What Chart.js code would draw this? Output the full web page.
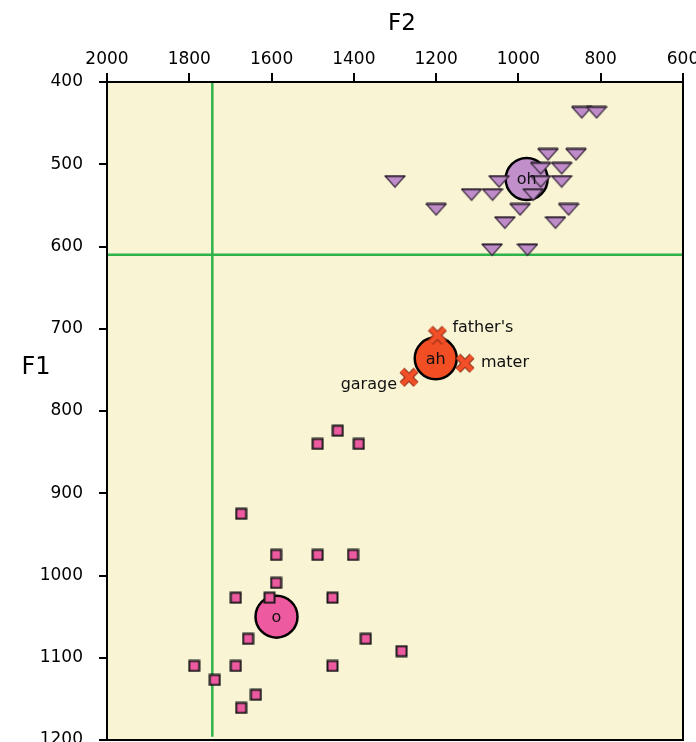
<!DOCTYPE html>
<html>
<head>
<meta charset="utf-8">
<script src="https://cdn.jsdelivr.net/npm/chart.js@4/dist/chart.umd.min.js"></script>
<style>
html,body{margin:0;padding:0;background:#fff;}
#wrap{width:696px;height:742px;}
</style>
</head>
<body>
<div id="wrap"><canvas id="c" width="696" height="742"></canvas></div>
<script>
// ---- data ----
const xTicks = [2000, 1800, 1600, 1400, 1200, 1000, 800, 600];
const yTicks = [400, 500, 600, 700, 800, 900, 1000, 1100, 1200];

const ohF2 = [846, 810, 928, 860, 946, 895, 1300, 1047, 946, 895, 1114, 1063, 964, 1200, 996, 878, 1033, 910, 1064, 978];
const ohF1 = [437, 437, 488, 488, 505, 505, 521, 521, 521, 521, 537, 537, 537, 555, 555, 555, 571, 571, 604, 604];

const oF2 = [1439, 1488, 1388, 1674, 1589, 1488, 1402, 1589, 1687, 1605, 1452, 1657, 1371, 1284, 1788, 1687, 1452, 1738, 1638, 1674];
const oF1 = [824, 840, 840, 925, 975, 975, 975, 1009, 1027, 1027, 1027, 1077, 1077, 1092, 1110, 1110, 1110, 1127, 1145, 1161];

const ahWords = ["father's", "mater", "garage"];
const ahF2 = [1197, 1130, 1266];
const ahF1 = [708, 742, 759];

const meanVowels = ["oh", "ah", "o"];
const meanF2 = [980, 1201, 1588];
const meanF1 = [518, 736, 1050];

const boundaryF2 = 1744;
const boundaryF1 = 610;
const vLineF1 = [400, 1196];
const hLineF2 = [2000, 600];

// ---- marker images ----
function triImg(){
  const c = document.createElement('canvas'); c.width = 22; c.height = 14;
  const g = c.getContext('2d');
  g.beginPath(); g.moveTo(1,1.5); g.lineTo(21,1.5); g.lineTo(11,12.5); g.closePath();
  g.fillStyle = '#BF8CC9'; g.fill();
  g.strokeStyle = '#3b2b3d'; g.lineWidth = 1.2; g.stroke();
  g.beginPath(); g.moveTo(1,1.5); g.lineTo(21,1.5); g.lineWidth = 2; g.strokeStyle = '#2a1e2c'; g.stroke();
  return c;
}
function sqImg(){
  const c = document.createElement('canvas'); c.width = 13; c.height = 13;
  const g = c.getContext('2d');
  g.fillStyle = '#EE5AA0'; g.fillRect(1.5,1.5,10,10);
  g.strokeStyle = '#1a1a1a'; g.lineWidth = 2; g.strokeRect(1.5,1.5,10,10);
  return c;
}
function crossImg(){
  const c = document.createElement('canvas'); c.width = 20; c.height = 20;
  const g = c.getContext('2d');
  g.lineCap = 'butt';
  g.beginPath(); g.moveTo(3,3); g.lineTo(17,17); g.moveTo(17,3); g.lineTo(3,17);
  g.strokeStyle = '#8a2d14'; g.lineWidth = 7; g.stroke();
  g.strokeStyle = '#F04F28'; g.lineWidth = 5; g.stroke();
  return c;
}
const TRI = triImg(), SQ = sqImg(), CROSS = crossImg();

const pts = (xs, ys) => xs.map((x, i) => ({x: x, y: ys[i]}));

const bgPlugin = {
  id: 'bg',
  beforeDraw(chart){
    const {ctx, chartArea: a} = chart;
    ctx.save(); ctx.fillStyle = '#F9F4D4';
    ctx.fillRect(a.left, a.top, a.right - a.left, a.bottom - a.top);
    ctx.restore();
  },
  afterDraw(chart){
    const {ctx, chartArea: a} = chart;
    ctx.save(); ctx.strokeStyle = '#000'; ctx.lineWidth = 2;
    ctx.strokeRect(a.left, a.top, a.right - a.left, a.bottom - a.top);
    ctx.fillStyle = '#000';
    ctx.textAlign = 'center'; ctx.textBaseline = 'middle';
    ctx.font = '23px "DejaVu Sans"';
    ctx.fillText('F2', 402, 24);
    ctx.font = '24px "DejaVu Sans"';
    ctx.fillText('F1', 36, 368);
    ctx.restore();
  },
  afterDatasetsDraw(chart){
    const {ctx} = chart;
    const xs = chart.scales.x, ys = chart.scales.y;
    ctx.save(); ctx.fillStyle = '#111';
    ctx.font = '16px "DejaVu Sans"';
    ctx.textBaseline = 'middle'; ctx.textAlign = 'center';
    meanVowels.forEach((v, i) => {
      ctx.fillText(v, xs.getPixelForValue(meanF2[i]), ys.getPixelForValue(meanF1[i]) + 1);
    });
    const offs = [[15, -7, 'left'], [16, 0, 'left'], [-12, 8, 'right']];
    ahWords.forEach((w, i) => {
      const o = offs[i];
      ctx.textAlign = o[2];
      ctx.fillText(w, xs.getPixelForValue(ahF2[i]) + o[0], ys.getPixelForValue(ahF1[i]) + o[1]);
    });
    ctx.restore();
  }
};

new Chart(document.getElementById('c'), {
  type: 'scatter',
  data: {
    datasets: [
      { type: 'line', data: pts([boundaryF2, boundaryF2], vLineF1), borderColor: '#2DB34A', borderWidth: 2.5, pointRadius: 0, order: 10 },
      { type: 'line', data: pts(hLineF2, [boundaryF1, boundaryF1]), borderColor: '#2DB34A', borderWidth: 2.5, pointRadius: 0, order: 10 },
      { data: pts(meanF2, meanF1), pointRadius: 21, pointHoverRadius: 21,
        backgroundColor: ['#C190CB', '#F24E23', '#EE5AA0'], borderColor: '#000', borderWidth: 2.5, order: 5 },
      { data: pts(ohF2, ohF1), pointStyle: TRI, order: 1 },
      { data: pts(oF2, oF1), pointStyle: SQ, order: 1 },
      { data: pts(ahF2, ahF1), pointStyle: CROSS, order: 1 }
    ]
  },
  options: {
    responsive: false,
    animation: false,
    layout: { autoPadding: false, padding: { left: 0, right: 13, top: 0, bottom: 2 } },
    plugins: { legend: { display: false }, tooltip: { enabled: false } },
    scales: {
      x: {
        type: 'linear', position: 'top', reverse: true, min: 600, max: 2000,
        afterBuildTicks(s){ s.ticks = xTicks.map(v => ({value: v})); },
        afterFit(s){ s.height = 82; s.paddingLeft = 0; s.paddingRight = 0; },
        ticks: { color: '#000', font: { size: 17, family: 'DejaVu Sans' }, padding: 3, maxRotation: 0, autoSkip: false, callback: v => String(v) },
        grid: { drawOnChartArea: false, drawTicks: true, tickLength: 9, color: '#000', lineWidth: 2 },
        border: { display: true, color: '#000', width: 2 }
      },
      y: {
        type: 'linear', position: 'left', reverse: true, min: 400, max: 1200,
        afterBuildTicks(s){ s.ticks = yTicks.map(v => ({value: v})); },
        afterFit(s){ s.width = 107; s.paddingTop = 0; s.paddingBottom = 0; },
        ticks: { color: '#000', font: { size: 17, family: 'DejaVu Sans' }, padding: 16, autoSkip: false, callback: v => String(v) },
        grid: { drawOnChartArea: false, drawTicks: true, tickLength: 8, color: '#000', lineWidth: 2 },
        border: { display: true, color: '#000', width: 2 }
      }
    }
  },
  plugins: [bgPlugin]
});
</script>
</body>
</html>
